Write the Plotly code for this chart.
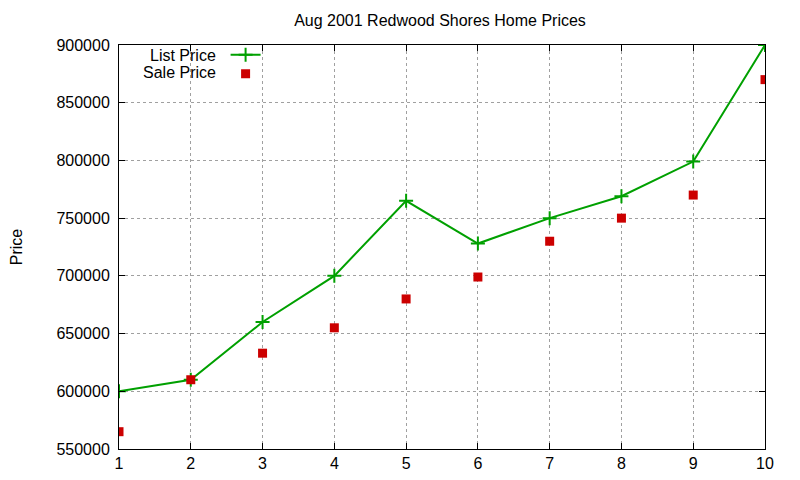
import plotly.graph_objects as go

# data
months = [1, 2, 3, 4, 5, 6, 7, 8, 9, 10]
list_price = [600000, 610000, 660000, 700000, 765000, 728000, 750000, 769000, 799000, 900000]
sale_price = [565000, 610000, 633000, 655000, 680000, 699000, 730000, 750000, 770000, 870000]

GREEN = "rgb(0,160,0)"
RED = "rgb(204,0,0)"
FONT = "Liberation Sans, Arial, sans-serif"

fig = go.Figure()
fig.add_trace(go.Scatter(
    x=months, y=list_price, mode="lines+markers", name="",
    line=dict(color=GREEN, width=2),
    marker=dict(symbol="cross-thin", size=10, line=dict(color=GREEN, width=2)),
))
fig.add_trace(go.Scatter(
    x=months, y=sale_price, mode="markers", name="",
    marker=dict(symbol="square", size=9, color=RED),
))

axis_common = dict(
    showline=True, linecolor="black", linewidth=1, mirror="ticks",
    ticks="inside", ticklen=6, tickcolor="black",
    showgrid=True, gridcolor="#a0a0a0", griddash="dot", gridwidth=1,
    zeroline=False, automargin=False,
    tickfont=dict(family=FONT, size=16, color="black"),
)

# page body adds an 8px offset, margins compensate for it
fig.update_layout(
    width=800, height=480,
    margin=dict(l=111, r=43, t=37, b=39, autoexpand=False),
    plot_bgcolor="white", paper_bgcolor="white",
    title=dict(text="Aug 2001 Redwood Shores Home Prices", x=0.54, xanchor="center",
               y=0.975, yanchor="middle", font=dict(family=FONT, size=16, color="black")),
    xaxis=dict(range=[1, 10], dtick=1, **axis_common),
    yaxis=dict(range=[550000, 900000], dtick=50000, tickformat="d", ticklabelstandoff=5,
               title=dict(text="Price", standoff=38, font=dict(family=FONT, size=16, color="black")),
               **axis_common),
    legend=dict(x=0.165, y=1.012, xanchor="left", yanchor="top", bgcolor="rgba(0,0,0,0)",
                tracegroupgap=0, font=dict(family=FONT, size=7)),
    annotations=[
        dict(text="List Price", xref="paper", yref="paper", x=0.153, y=0.975, xanchor="right",
             yanchor="middle", showarrow=False, font=dict(family=FONT, size=16, color="black")),
        dict(text="Sale Price", xref="paper", yref="paper", x=0.153, y=0.933, xanchor="right",
             yanchor="middle", showarrow=False, font=dict(family=FONT, size=16, color="black")),
    ],
)

fig.write_html("out.html")
